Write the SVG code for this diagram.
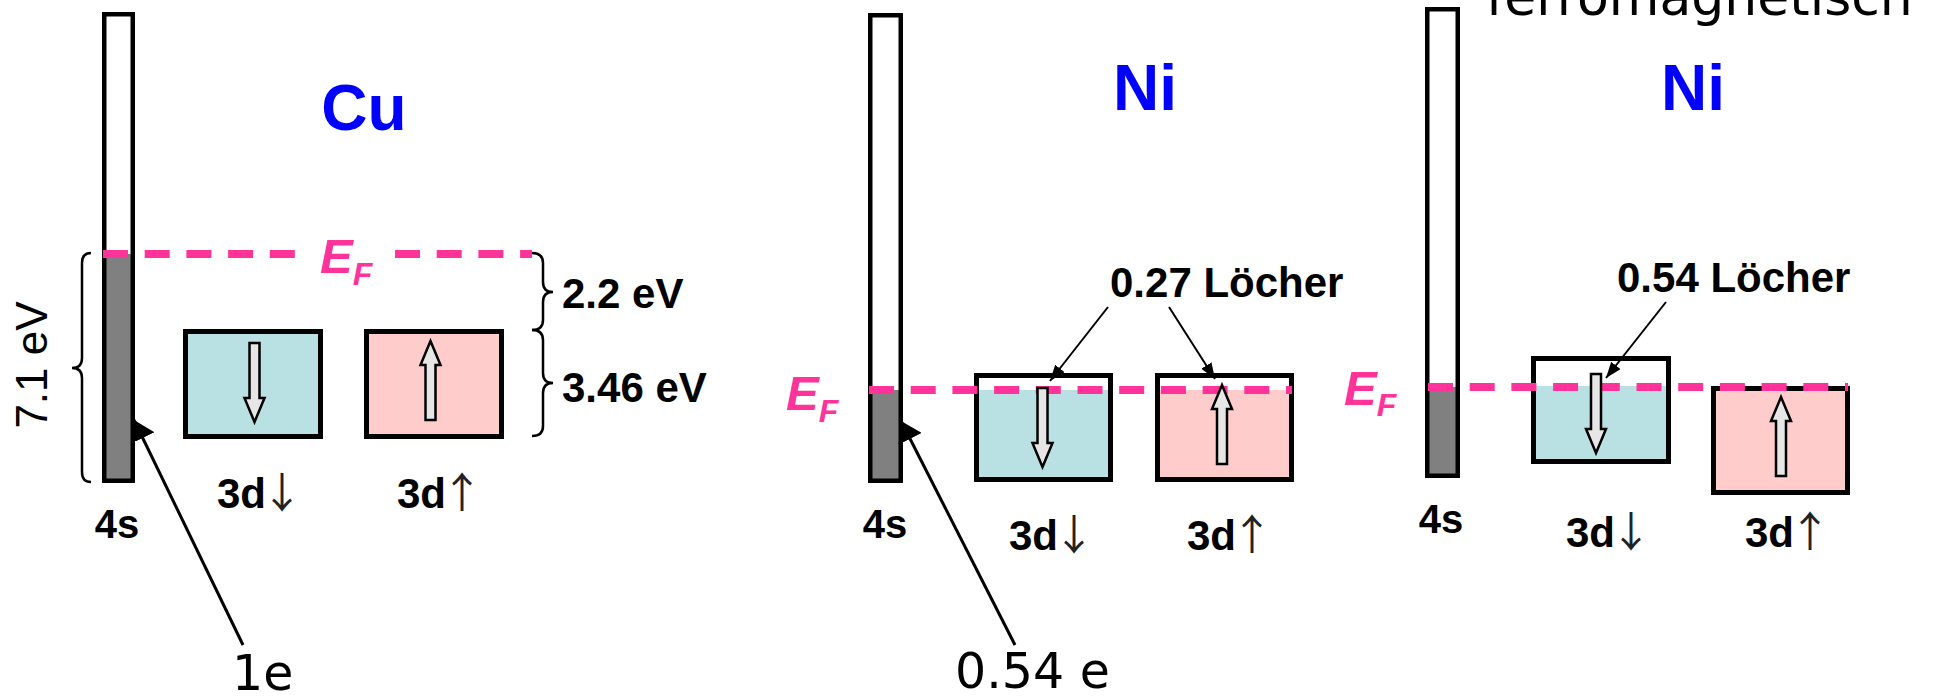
<svg xmlns="http://www.w3.org/2000/svg" width="1936" height="698" viewBox="0 0 1936 698">
<style>
.lbl{font-family:"Liberation Sans",Arial,sans-serif;font-weight:bold;font-size:42px;fill:#000}
.s4{font-family:"Liberation Sans",Arial,sans-serif;font-weight:bold;font-size:40px;fill:#000}
.ar{font-family:"Noto Sans CJK JP","DejaVu Sans",sans-serif;font-weight:normal;fill:#222}
.title{font-family:"Liberation Sans",Arial,sans-serif;font-weight:bold;font-size:64px;fill:#0000ff}
.ef{font-family:"Liberation Sans",Arial,sans-serif;font-weight:bold;font-style:italic;font-size:49px;fill:#ff3399}
.sub{font-size:32px}
.note{font-family:"DejaVu Sans",Verdana,sans-serif;font-size:49px;fill:#000}
.ferro{font-family:"DejaVu Sans",Verdana,sans-serif;font-size:52px;fill:#000}
.ev7{font-family:"Liberation Sans",Arial,sans-serif;font-size:44px;fill:#000}
.barbg{fill:#fff}
.gray{fill:#808080}
.outline{fill:none;stroke:#000;stroke-width:4.5}
.box{fill:none;stroke:#000;stroke-width:5}
.cyan{fill:#b9e0e3}
.pink{fill:#ffcccc}
.efl{stroke:#ff3399;stroke-width:8;stroke-dasharray:25 16.7;fill:none}
.spin{fill:#e6e6e6;stroke:#000;stroke-width:2.5}
.brace{fill:none;stroke:#000;stroke-width:2.5}
.big{stroke:#000;stroke-width:3;fill:none;marker-end:url(#mbig)}
.lead{stroke:#000;stroke-width:2;fill:none;marker-end:url(#msm)}
</style>
<defs>
<path id="dn" d="M-5,0 H5 V55 H10 L0,79 L-10,55 H-5 Z"/>
<path id="up" d="M-5,79 H5 V24 H10 L0,0 L-10,24 H-5 Z"/>
<marker id="mbig" viewBox="0 0 20 26" refX="20" refY="13" markerWidth="20" markerHeight="26" markerUnits="userSpaceOnUse" orient="auto"><path d="M0,0 L20,13 L0,26 z" fill="#000"/></marker>
<marker id="msm" viewBox="0 0 16 12" refX="16" refY="6" markerWidth="16" markerHeight="12" markerUnits="userSpaceOnUse" orient="auto"><path d="M0,0 L16,6 L0,12 z" fill="#000"/></marker>
</defs>
<rect width="1936" height="698" fill="#fff"/>

<text class="ferro" x="1486" y="15">ferromagnetisch</text>

<!-- Cu panel -->
<g id="cu-title"><text class="title" x="364" y="130" text-anchor="middle">Cu</text></g>
<g id="cu-4s">
<rect class="barbg" x="104" y="14" width="29" height="467"/>
<rect class="gray" x="104" y="254" width="29" height="227"/>
<rect class="outline" x="104.25" y="14.25" width="28.5" height="466.5"/>
<text class="s4" x="117" y="538" text-anchor="middle">4s</text>
</g>
<g id="cu-3d-down">
<rect class="cyan" x="185.5" y="331.5" width="135" height="105"/>
<rect class="box" x="185.5" y="331.5" width="135" height="105"/>
<use href="#dn" class="spin" x="254.5" y="343"/>
<text class="lbl" x="217" y="508">3d<tspan class="ar" dx="-5">↓</tspan></text>
</g>
<g id="cu-3d-up">
<rect class="pink" x="366.5" y="331.5" width="135" height="105"/>
<rect class="box" x="366.5" y="331.5" width="135" height="105"/>
<use href="#up" class="spin" x="430.5" y="341"/>
<text class="lbl" x="397" y="508">3d<tspan class="ar" dx="-5">↑</tspan></text>
</g>
<g id="cu-ef">
<line class="efl" x1="103" y1="254" x2="295" y2="254"/>
<line class="efl" x1="395" y1="254" x2="532" y2="254"/>
<text class="ef" x="320" y="273">E<tspan class="sub" dy="12">F</tspan></text>
</g>
<g id="cu-7eV">
<path class="brace" d="M91,253 Q82,253 82,263 L82,358 Q82,368 72,368 Q82,368 82,378 L82,472 Q82,482 91,482"/>
<text class="ev7" transform="translate(47,365) rotate(-90)" text-anchor="middle">7.1 eV</text>
</g>
<g id="cu-gaps">
<path class="brace" d="M532,253 Q543,253 543,263 L543,282 Q543,292 553,292 Q543,292 543,302 L543,320 Q543,330 532,330"/>
<path class="brace" d="M532,330 Q543,330 543,340 L543,373 Q543,383 553,383 Q543,383 543,393 L543,426 Q543,436 532,436"/>
<text class="lbl" x="562" y="308">2.2 eV</text>
<text class="lbl" x="562" y="402">3.46 eV</text>
</g>
<g id="cu-1e"><text class="note" x="232" y="690">1e</text></g>

<!-- Ni panel 1 -->
<g id="ni1-title"><text class="title" x="1145" y="110" text-anchor="middle">Ni</text></g>
<g id="ni1-4s">
<rect class="barbg" x="870" y="15" width="31" height="466"/>
<rect class="gray" x="870" y="390" width="31" height="91"/>
<rect class="outline" x="870.25" y="15.25" width="30.5" height="465.5"/>
<text class="s4" x="885" y="538" text-anchor="middle">4s</text>
</g>
<g id="ni1-3d-down">
<rect class="cyan" x="976.5" y="390" width="134" height="89.5"/>
<rect class="box" x="976.5" y="375.5" width="134" height="104"/>
</g>
<g id="ni1-3d-up">
<rect class="pink" x="1157.5" y="390" width="134" height="89.5"/>
<rect class="box" x="1157.5" y="375.5" width="134" height="104"/>
</g>
<g id="ni1-ef">
<line class="efl" x1="869" y1="390" x2="1292" y2="390"/>
<text class="ef" x="786" y="410">E<tspan class="sub" dy="12">F</tspan></text>
</g>
<g id="ni1-spins">
<use href="#dn" class="spin" x="1042.5" y="388"/>
<use href="#up" class="spin" x="1222" y="385"/>
<text class="lbl" x="1009" y="550">3d<tspan class="ar" dx="-5">↓</tspan></text>
<text class="lbl" x="1187" y="550">3d<tspan class="ar" dx="-5">↑</tspan></text>
</g>
<g id="ni1-holes"><text class="lbl" x="1110" y="297">0.27 Löcher</text></g>
<g id="ni1-054e"><text class="note" x="955" y="688">0.54 e</text></g>

<!-- Ni panel 2 (ferromagnetic) -->
<g id="ni2-title"><text class="title" x="1693" y="110" text-anchor="middle">Ni</text></g>
<g id="ni2-4s">
<rect class="barbg" x="1427" y="9" width="31" height="467"/>
<rect class="gray" x="1427" y="387" width="31" height="89"/>
<rect class="outline" x="1427.25" y="9.25" width="30.5" height="466.5"/>
<text class="s4" x="1441" y="533" text-anchor="middle">4s</text>
</g>
<g id="ni2-3d-down">
<rect class="cyan" x="1533.5" y="386" width="135" height="75.5"/>
<rect class="box" x="1533.5" y="358.5" width="135" height="103"/>
</g>
<g id="ni2-3d-up">
<rect class="pink" x="1713.5" y="388.5" width="134" height="104"/>
<rect class="box" x="1713.5" y="388.5" width="134" height="104"/>
</g>
<g id="ni2-ef">
<line class="efl" x1="1428" y1="387" x2="1848" y2="387"/>
<text class="ef" x="1344" y="405">E<tspan class="sub" dy="11">F</tspan></text>
</g>
<g id="ni2-spins">
<use href="#dn" class="spin" x="1596" y="374"/>
<use href="#up" class="spin" x="1781" y="397"/>
<text class="lbl" x="1566" y="547">3d<tspan class="ar" dx="-5">↓</tspan></text>
<text class="lbl" x="1745" y="547">3d<tspan class="ar" dx="-5">↑</tspan></text>
</g>
<g id="ni2-holes"><text class="lbl" x="1617" y="292">0.54 Löcher</text></g>

<!-- connectors -->
<g id="connectors">
<line class="big" x1="243" y1="645" x2="134" y2="420"/>
<line class="big" x1="1015" y1="645" x2="901" y2="421"/>
<line class="lead" x1="1108" y1="307" x2="1050" y2="381"/>
<line class="lead" x1="1169" y1="307" x2="1215" y2="379"/>
<line class="lead" x1="1666" y1="302" x2="1606" y2="378"/>
</g>
</svg>
